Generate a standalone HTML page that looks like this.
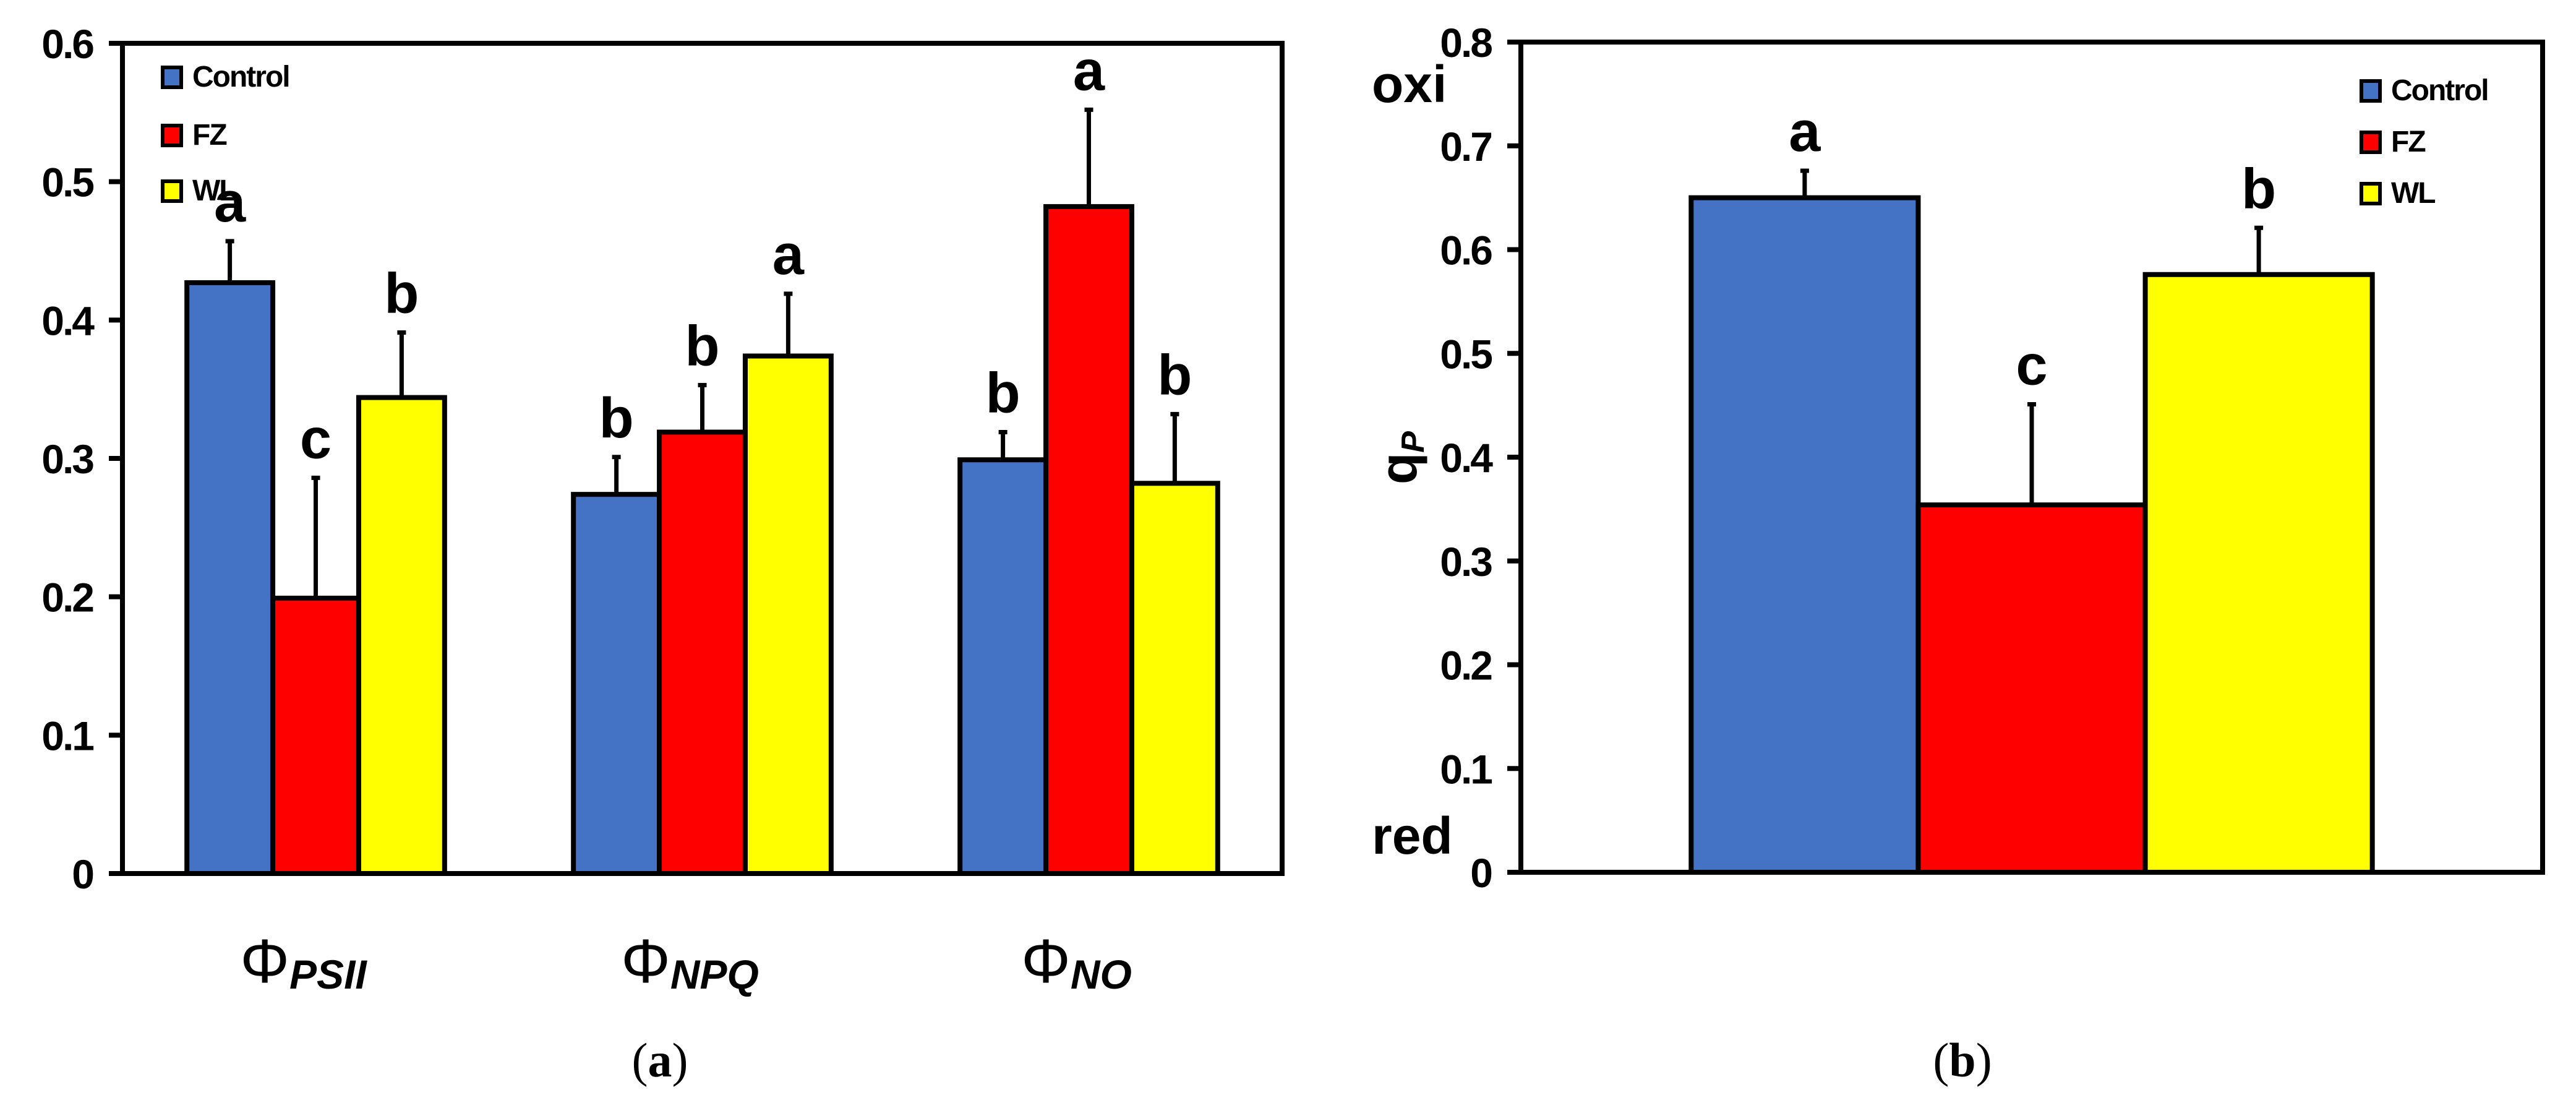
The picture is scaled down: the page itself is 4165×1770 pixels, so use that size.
<!DOCTYPE html>
<html><head><meta charset="utf-8"><style>
html,body{margin:0;padding:0;background:#fff;}
svg{display:block;}
text{font-family:"Liberation Sans",sans-serif;font-weight:bold;fill:#000;}
</style></head>
<body>
<svg id="fig" width="4165" height="1770" viewBox="0 0 4165 1770" xmlns="http://www.w3.org/2000/svg">
<g id="chartA"></g>
<g id="chartB"></g>
<text x="1067" y="1740" font-size="78" text-anchor="middle" style="font-family:'Liberation Serif',serif;font-weight:normal">(<tspan font-weight="bold">a</tspan>)</text>
<text x="3173" y="1740" font-size="78" text-anchor="middle" style="font-family:'Liberation Serif',serif;font-weight:normal">(<tspan font-weight="bold">b</tspan>)</text>
</svg>
<script>
const seriesNames = ["Control","FZ","WL"];
const colors = ["#4472C4","#FF0000","#FFFF00"];
// chart a
const catsA = ["PSII","NPQ","NO"];
const controlA = [0.427,0.274,0.299];
const fzA = [0.199,0.319,0.482];
const wlA = [0.344,0.374,0.282];
const controlErrA = [0.457,0.301,0.319];
const fzErrA = [0.286,0.353,0.552];
const wlErrA = [0.391,0.419,0.332];
const lettersA = [["a","c","b"],["b","b","a"],["b","a","b"]];
const ticksA = ["0","0.1","0.2","0.3","0.4","0.5","0.6"];
// chart b
const catsB = ["qP"];
const valsB = [0.650,0.354,0.576];
const errB = [0.676,0.451,0.621];
const lettersB = ["a","c","b"];
const ticksB = ["0","0.1","0.2","0.3","0.4","0.5","0.6","0.7","0.8"];

const NS="http://www.w3.org/2000/svg";
function mk(parent,tag,attrs,txt){const e=document.createElementNS(NS,tag);for(const k in attrs)e.setAttribute(k,attrs[k]);if(txt!==undefined)e.textContent=txt;parent.appendChild(e);return e;}

function drawChart(g,cfg){
  const {x0,x1,yTop,yBot,max,ticks,cats,series,errs,letters,legendX,legendYs,name}=cfg;
  const yS=v=>yBot-(v/max)*(yBot-yTop);
  const band=(x1-x0)/cats.length;
  const barW=band*2/3/3;
  // ticks
  ticks.forEach(t=>{
    const y=yS(parseFloat(t));
    const tk=mk(g,'line',{x1:x0-22,x2:x0,y1:y,y2:y,stroke:'#000','stroke-width':8});
    
    
    const tl=mk(g,'text',{x:x0-48,y:y+24,'font-size':66,'text-anchor':'end','letter-spacing':'-3'},t);
    
    
  });
  cats.forEach((c,i)=>{
    const start=x0+band*i+band/6;
    series.forEach((vals,s)=>{
      const v=vals[i];
      const bx=start+s*barW;
      const r=mk(g,'rect',{x:bx,y:yS(v),width:barW,height:yBot-yS(v),fill:colors[s],stroke:'#000','stroke-width':8});
      
      
      const cx=bx+barW/2, et=yS(errs[s][i]);
      const el=mk(g,'path',{d:`M${cx},${yS(v)}V${et}M${cx-7},${et}H${cx+7}`,stroke:'#000','stroke-width':7,fill:'none'});
      
      
      const lt=mk(g,'text',{x:cx,y:et-32,'font-size':92,'text-anchor':'middle'},letters[i][s]);
      
      
    });
  });
  const fr=mk(g,'rect',{x:x0,y:yTop,width:x1-x0,height:yBot-yTop,fill:'none',stroke:'#000','stroke-width':8});
  
  
  seriesNames.forEach((n,s)=>{
    const ly=legendYs[s];
    const b=mk(g,'rect',{x:legendX,y:ly,width:30,height:32,fill:colors[s],stroke:'#000','stroke-width':6});
    
    
    const t=mk(g,'text',{x:legendX+48,y:ly+31,'font-size':48,'letter-spacing':'-2'},n);
    
    
  });
  return {yS,band};
}

const gA=document.getElementById('chartA');
const A=drawChart(gA,{x0:198,x1:2073,yTop:70,yBot:1412,max:0.6,ticks:ticksA,cats:catsA,
  series:[controlA,fzA,wlA],errs:[controlErrA,fzErrA,wlErrA],letters:lettersA,
  legendX:263,legendYs:[109,203,293],name:'a'});
const xLabCenters=[509,1125,1750];
catsA.forEach((c,i)=>{
  const t=mk(gA,'text',{x:198+A.band*(i+0.5)-20,y:1588,'font-size':100,'text-anchor':'middle'});
  
  
  mk(t,'tspan',{style:'font-weight:normal'},'Φ');
  mk(t,'tspan',{'font-size':66,'font-style':'italic',dy:10},c);
});

const gB=document.getElementById('chartB');
drawChart(gB,{x0:2459,x1:4111,yTop:68,yBot:1410,max:0.8,ticks:ticksB,cats:catsB,
  series:[[valsB[0]],[valsB[1]],[valsB[2]]],errs:[[errB[0]],[errB[1]],[errB[2]]],letters:[lettersB],
  legendX:3818,legendYs:[131,214,297],name:'b'});
const ox=mk(gB,'text',{x:2218,y:165,'font-size':84},'oxi');


const rd=mk(gB,'text',{x:2218,y:1380,'font-size':84},'red');


const yt=mk(gB,'text',{x:0,y:0,'font-size':84,'text-anchor':'middle',transform:'translate(2290,740) rotate(-90)'});


mk(yt,'tspan',{},'q');
mk(yt,'tspan',{'font-size':52,'font-style':'italic',dy:12},'P');
</script>
</body></html>
